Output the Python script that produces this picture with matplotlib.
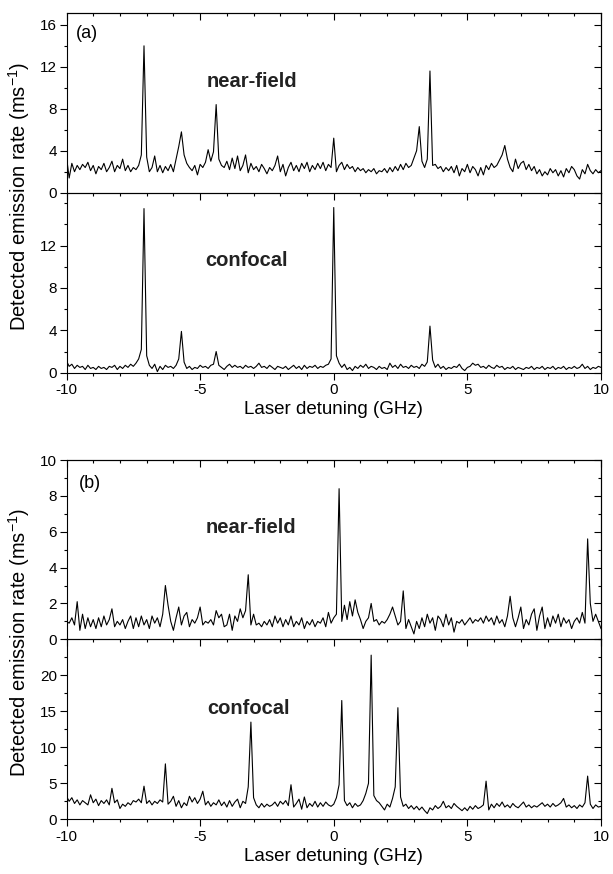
import numpy as np
import matplotlib
matplotlib.use("Agg")
import matplotlib.pyplot as plt
from matplotlib.ticker import MultipleLocator, FixedLocator

plt.rcParams['font.family'] = ['Liberation Sans', 'DejaVu Sans']
plt.rcParams['mathtext.fontset'] = 'custom'
plt.rcParams['mathtext.rm'] = 'Liberation Sans'
plt.rcParams['mathtext.it'] = 'Liberation Sans:italic'
plt.rcParams['mathtext.bf'] = 'Liberation Sans:bold'

# Laser detuning grid (GHz), 0.1 GHz steps
detuning = np.round(np.arange(-10.0, 10.0001, 0.1), 2)

# (a) near-field
a_nearfield = [
    3.4, 1.4, 2.8, 2.0, 2.6, 2.2, 2.7, 2.4, 2.9, 2.1,
    2.6, 1.8, 2.5, 2.2, 2.8, 2.0, 2.4, 3.0, 2.0, 2.6,
    2.3, 3.2, 2.1, 2.6, 2.0, 2.4, 2.2, 2.6, 3.6, 14.0,
    3.4, 2.0, 2.4, 3.5, 2.0, 2.6, 1.9, 2.5, 2.1, 2.7,
    2.0, 3.2, 4.4, 5.8, 3.6, 2.8, 2.4, 2.1, 2.6, 1.7,
    2.7, 2.4, 2.9, 4.1, 3.0, 3.9, 8.4, 3.2, 2.6, 2.4,
    3.0, 2.2, 3.3, 2.3, 3.5, 2.1, 2.6, 3.6, 1.9, 2.8,
    2.2, 2.5, 2.0, 2.7, 2.3, 1.8, 2.4, 2.1, 2.6, 3.5,
    2.0, 2.7, 1.6, 2.4, 2.9, 2.1, 2.6, 2.0, 2.8, 2.3,
    2.9, 2.0, 2.6, 2.2, 2.8, 2.3, 2.9, 2.1, 2.7, 2.4,
    5.2, 2.0, 2.6, 2.9, 2.2, 2.7, 2.3, 2.5, 2.0, 2.4,
    2.1, 2.3, 1.9, 2.2, 2.0, 2.3, 1.8, 2.1, 2.0, 2.3,
    1.9, 2.4, 2.0, 2.5, 2.1, 2.7, 2.2, 2.8, 2.4, 2.6,
    3.3, 4.0, 6.3, 3.0, 2.4, 3.2, 11.6, 2.6, 2.7, 2.3,
    2.5, 2.0, 2.4, 2.1, 2.5, 1.9, 2.6, 1.6, 2.3, 2.0,
    2.7, 1.9, 2.5, 2.2, 1.6, 2.4, 1.7, 2.6, 2.2, 2.8,
    2.4, 2.6, 3.1, 3.6, 4.5, 3.2, 2.4, 2.0, 3.2, 2.3,
    2.8, 3.0, 2.2, 2.7, 2.1, 2.5, 1.8, 2.2, 1.6, 2.0,
    1.7, 2.3, 1.9, 2.2, 1.6, 2.1, 1.5, 2.3, 1.9, 2.5,
    2.2, 1.6, 1.3, 2.2, 1.8, 2.7, 2.1, 1.8, 2.2, 1.9,
    2.1,
]

# (a) confocal
a_confocal = [
    1.1, 0.6, 0.8, 0.4, 0.7, 0.5, 0.6, 0.3, 0.7, 0.4,
    0.5, 0.3, 0.6, 0.4, 0.5, 0.3, 0.6, 0.5, 0.7, 0.3,
    0.6, 0.4, 0.7, 0.5, 0.8, 0.6, 0.9, 1.3, 2.2, 15.5,
    1.6, 0.7, 0.4, 0.8, 0.1, 0.6, 0.3, 0.7, 0.5, 0.6,
    0.4, 0.7, 1.3, 3.9, 1.0, 0.4, 0.6, 0.3, 0.5, 0.4,
    0.7, 0.5, 0.6, 0.4, 0.7, 0.8, 2.0, 0.7, 0.5, 0.3,
    0.6, 0.8, 0.5, 0.7, 0.5, 0.6, 0.4, 0.7, 0.5, 0.6,
    0.4, 0.6, 0.9, 0.5, 0.6, 0.4, 0.7, 0.5, 0.3, 0.6,
    0.5, 0.4, 0.6, 0.3, 0.5, 0.7, 0.4, 0.6, 0.3, 0.7,
    0.4, 0.6, 0.5, 0.7, 0.4, 0.6, 0.5, 0.7, 0.8, 1.3,
    15.6, 1.6, 0.9, 0.5, 0.8, 0.3, 0.5, 0.2, 0.6, 0.4,
    0.7, 0.5, 0.8, 0.4, 0.6, 0.5, 0.3, 0.6, 0.4, 0.5,
    0.3, 0.9, 0.5, 0.7, 0.4, 0.8, 0.5, 0.6, 0.4, 0.7,
    0.5, 0.6, 0.4, 0.8, 0.6, 1.0, 4.4, 1.2, 0.5, 0.8,
    0.4, 0.6, 0.3, 0.5, 0.4, 0.6, 0.5, 0.8, 0.4, 0.2,
    0.5, 0.6, 0.9, 0.7, 0.8, 0.5, 0.6, 0.4, 0.7, 0.5,
    0.4, 0.7, 0.5, 0.6, 0.3, 0.5, 0.4, 0.6, 0.3, 0.5,
    0.4, 0.3, 0.5, 0.4, 0.6, 0.3, 0.5, 0.4, 0.6, 0.3,
    0.5, 0.4, 0.6, 0.3, 0.5, 0.4, 0.6, 0.3, 0.5, 0.4,
    0.6, 0.4, 0.5, 0.8, 0.4, 0.6, 0.3, 0.5, 0.4, 0.6,
    0.5,
]

# (b) near-field
b_nearfield = [
    1.0, 0.9, 1.2, 0.8, 2.1, 0.5, 1.4, 0.6, 1.2, 0.7,
    1.1, 0.6, 1.2, 0.7, 1.3, 0.8, 1.1, 1.7, 0.7, 1.0,
    0.8, 1.1, 0.6, 1.0, 1.3, 0.6, 1.2, 0.7, 1.3, 0.8,
    1.1, 0.6, 1.3, 0.9, 1.2, 0.7, 1.4, 3.0, 1.9, 1.0,
    0.5, 1.2, 1.8, 0.8, 1.3, 1.5, 0.7, 1.1, 0.9, 1.2,
    1.8, 0.8, 1.0, 0.9, 1.1, 0.8, 1.6, 1.2, 1.4, 0.7,
    0.8, 1.4, 0.5, 1.3, 1.0, 1.7, 1.2, 1.6, 3.6, 0.8,
    1.4, 0.8, 0.9, 0.7, 1.0, 0.8, 1.1, 0.7, 1.3, 0.9,
    1.2, 0.7, 1.1, 0.8, 1.3, 0.7, 1.0, 0.8, 1.2, 0.6,
    1.0, 0.8, 1.1, 0.7, 1.0, 0.9, 1.2, 0.7, 1.5, 0.9,
    1.2, 1.4, 8.4, 1.0, 1.9, 1.1, 2.1, 1.3, 2.2, 1.5,
    1.1, 0.6, 1.0, 1.2, 2.0, 1.0, 1.1, 0.8, 1.0, 0.9,
    1.1, 1.4, 1.8, 1.3, 0.8, 1.0, 2.7, 0.6, 1.1, 0.7,
    0.3, 1.0, 0.6, 1.2, 0.7, 1.4, 0.9, 1.2, 0.5, 1.3,
    1.1, 0.7, 1.4, 0.8, 1.2, 0.4, 1.0, 0.9, 1.1, 0.8,
    1.0, 1.2, 0.9, 1.1, 1.0, 1.2, 0.9, 1.3, 1.0, 1.2,
    0.8, 1.3, 0.9, 1.1, 0.7, 1.3, 2.4, 1.2, 0.7, 1.2,
    1.8, 0.6, 1.1, 0.8, 1.4, 1.7, 0.5, 1.3, 1.8, 0.6,
    1.2, 0.7, 1.3, 0.9, 1.4, 0.7, 1.2, 0.9, 1.1, 0.6,
    1.0, 1.2, 0.9, 1.5, 0.9, 5.6, 2.0, 1.0, 1.4, 1.0,
    0.6,
]

# (b) confocal
b_confocal = [
    3.2, 2.5, 3.0, 2.2, 2.7, 2.0, 2.6, 2.3, 2.0, 3.4,
    2.3, 2.8, 1.9, 2.6, 2.2, 2.7, 2.0, 4.3, 2.3, 2.7,
    1.5, 2.1, 1.8, 2.3, 2.0, 2.6, 2.4, 2.8, 2.3, 4.6,
    2.2, 2.6, 2.0, 2.5, 2.2, 2.7, 2.4, 7.7, 2.1, 2.5,
    3.2, 1.8, 2.6, 1.6, 2.3, 1.9, 3.2, 2.4, 3.0, 2.2,
    2.8, 3.9, 2.0, 2.5, 1.8, 2.3, 2.0, 2.7, 1.9, 2.4,
    1.7, 2.6, 1.8, 2.4, 2.8, 1.6, 2.5, 2.2, 4.5, 13.5,
    3.0, 2.0, 1.6, 2.2, 1.7, 2.1, 1.8, 2.0, 2.4, 1.8,
    2.5, 2.1, 2.6, 1.9, 4.8, 1.7, 2.2, 2.8, 1.4, 3.1,
    1.6, 2.2, 1.8, 2.5, 1.7, 2.3, 1.8, 2.4, 2.0, 1.8,
    2.1, 3.0, 4.8, 16.5, 2.6, 1.9, 2.3, 1.6, 2.2, 1.8,
    2.0, 2.6, 3.6, 5.0, 22.8, 3.3, 2.6, 2.3, 1.8, 1.3,
    2.1, 1.7, 2.9, 4.5, 15.5, 3.1, 1.8, 2.1, 1.5, 1.9,
    1.4, 1.8, 1.3, 1.7, 1.2, 0.8, 1.6, 1.3, 1.9, 1.5,
    1.8, 2.5, 1.6, 1.9, 1.5, 2.2, 1.8, 1.5, 1.2, 1.6,
    1.2, 1.8, 1.4, 1.9, 1.5, 1.7, 2.0, 5.3, 1.3, 2.1,
    1.6, 2.2, 1.8, 2.4, 1.7, 2.0, 1.6, 2.2, 1.8, 1.6,
    2.0, 2.4, 1.7, 2.0, 1.6, 1.9, 1.7, 2.0, 2.3, 1.8,
    2.1, 1.7, 2.2, 1.8, 2.0, 2.3, 2.9, 1.7, 2.0, 1.6,
    1.9, 1.5, 2.0, 1.7, 2.3, 6.0, 2.1, 1.5, 2.0, 1.7,
    1.8,
]

x_ticks = [-10, -5, 0, 5, 10]
x_ticklabels = ['-10', '-5', '0', '5', '10']
panel_letters = ['(a)', '(b)']
trace_names = ['near-field', 'confocal']
y_label = 'Detected emission rate (ms$^{\\mathregular{-1}}$)'
x_label = 'Laser detuning (GHz)'

W, H = 613, 874
fig = plt.figure(figsize=(W / 100, H / 100), dpi=100)

left = 66.5 / W
width = (601 - 66.5) / W

def frac(ytop, ybot):
    return [left, 1 - ybot / H, width, (ybot - ytop) / H]

TFS = 11
LW = 0.8

def style(ax, upper, ymax, minor, labels_major):
    ax.set_facecolor('none')
    ax.set_xlim(-10, 10)
    ax.set_ylim(0, ymax)
    ax.xaxis.set_major_locator(FixedLocator(x_ticks))
    ax.xaxis.set_minor_locator(MultipleLocator(1))
    ax.yaxis.set_major_locator(FixedLocator(labels_major))
    ax.yaxis.set_minor_locator(MultipleLocator(minor))
    for s in ax.spines.values():
        s.set_linewidth(0.8)
    ax.tick_params(axis='both', which='both', width=0.8, labelsize=TFS)
    ax.tick_params(axis='y', which='major', direction='out', length=5, pad=2, left=True, right=False)
    ax.tick_params(axis='y', which='minor', direction='out', length=2.5, left=True, right=False)
    ax.tick_params(axis='x', which='major', direction='out', length=5, pad=2.5, top=False, bottom=True)
    ax.tick_params(axis='x', which='minor', direction='out', length=2.5, top=False, bottom=True)
    if upper:
        ax.tick_params(axis='x', which='both', labelbottom=False)
    else:
        ax.set_xticklabels(x_ticklabels)
    # right side ticks point inward
    ax2 = ax.secondary_yaxis('right')
    ax2.set_yticks(labels_major)
    ax2.yaxis.set_minor_locator(MultipleLocator(minor))
    ax2.tick_params(axis='y', which='major', direction='in', length=5, labelright=False, width=0.8)
    ax2.tick_params(axis='y', which='minor', direction='in', length=2.5, width=0.8)
    ax2.spines['right'].set_linewidth(0.8)
    if upper:
        axt = ax.secondary_xaxis('top')
        axt.set_xticks(x_ticks)
        axt.xaxis.set_minor_locator(MultipleLocator(1))
        axt.tick_params(axis='x', which='major', direction='in', length=5, labeltop=False, width=0.8)
        axt.tick_params(axis='x', which='minor', direction='in', length=2.5, width=0.8)
        axt.spines['top'].set_linewidth(0.8)

# panel geometry (pixel rows)
geo = {
    'a_up': (13.3, 192.7),
    'a_lo': (192.7, 372.7),
    'b_up': (460.0, 639.3),
    'b_lo': (639.3, 819.3),
}

ax_alo = fig.add_axes(frac(*geo['a_lo']))
ax_aup = fig.add_axes(frac(*geo['a_up']))
ax_blo = fig.add_axes(frac(*geo['b_lo']))
ax_bup = fig.add_axes(frac(*geo['b_up']))

ax_aup.plot(detuning, a_nearfield, color='black', lw=LW)
ax_alo.plot(detuning, a_confocal, color='black', lw=LW)
ax_bup.plot(detuning, b_nearfield, color='black', lw=LW)
ax_blo.plot(detuning, b_confocal, color='black', lw=LW)

style(ax_aup, True, 17.1, 2, [0, 4, 8, 12, 16])
style(ax_alo, False, 17.0, 2, [0, 4, 8, 12])
style(ax_bup, True, 10.0, 1, [0, 2, 4, 6, 8, 10])
style(ax_blo, False, 25.0, 2.5, [0, 5, 10, 15, 20])

TXT = 14.5
ax_aup.text(-9.66, 15.2, panel_letters[0], fontsize=13, va='center', ha='left')
ax_bup.text(-9.52, 8.7, panel_letters[1], fontsize=13, va='center', ha='left')
ax_aup.text(-4.75, 10.6, trace_names[0], fontsize=TXT, fontweight='bold', va='center', ha='left', color='#222222')
ax_alo.text(-4.8, 10.6, trace_names[1], fontsize=TXT, fontweight='bold', va='center', ha='left', color='#222222')
ax_bup.text(-4.8, 6.25, trace_names[0], fontsize=TXT, fontweight='bold', va='center', ha='left', color='#222222')
ax_blo.text(-4.73, 15.4, trace_names[1], fontsize=TXT, fontweight='bold', va='center', ha='left', color='#222222')

xc = left + width / 2
fig.text(xc, 1 - 410 / H, x_label, fontsize=13.5, ha='center', va='center')
fig.text(xc, 1 - 856.7 / H, x_label, fontsize=13.5, ha='center', va='center')
fig.text(19 / W, 1 - 196 / H, y_label, fontsize=14.5, ha='center', va='center', rotation=90)
fig.text(19 / W, 1 - 642 / H, y_label, fontsize=14.5, ha='center', va='center', rotation=90)

fig.savefig('out.png', dpi=100)
